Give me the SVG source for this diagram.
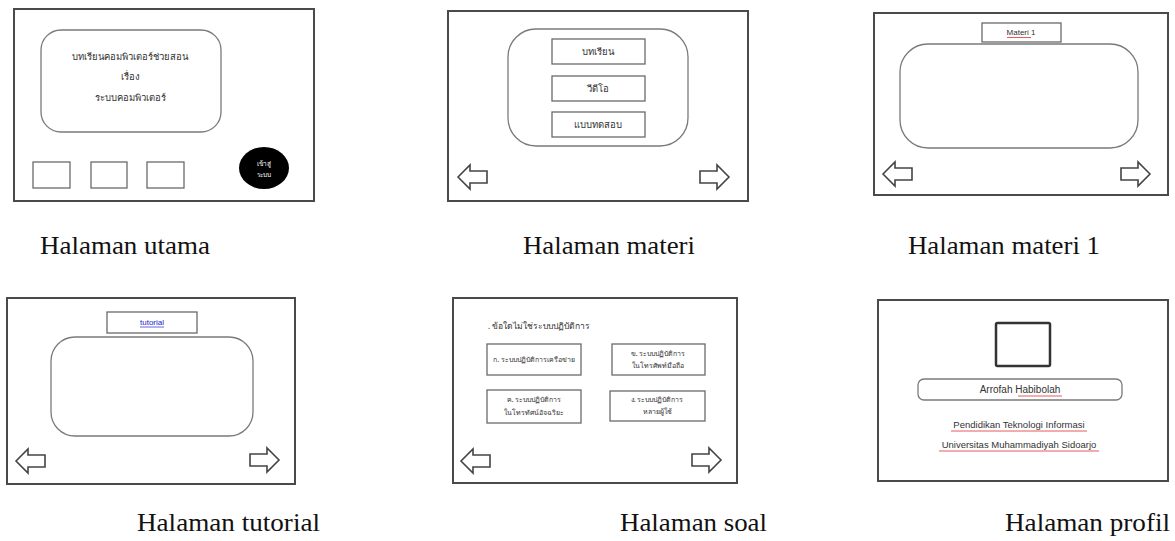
<svg xmlns="http://www.w3.org/2000/svg" width="1175" height="541" viewBox="0 0 1175 541">
<style>
.frame{fill:#fff;stroke:#4a4a4a;stroke-width:2}
.round{fill:#fff;stroke:#7a7a7a;stroke-width:1.3}
.box{fill:#fff;stroke:#6a6a6a;stroke-width:1.3}
.arrow{fill:#fff;stroke:#444;stroke-width:1.6;stroke-linejoin:miter}
.th{font-family:"Noto Sans","DejaVu Sans",sans-serif;font-size:9.5px;fill:#333;text-anchor:middle}
.sm{font-family:"Liberation Sans","DejaVu Sans",sans-serif;font-size:8px;fill:#333;text-anchor:middle}
.cap{font-family:"Liberation Serif","DejaVu Serif",serif;font-size:26px;fill:#111}
.red{stroke:#e03030;stroke-width:0.8;fill:none}
</style>
<defs>
<path id="la" d="M0 12 L12 0 L12 6 L29 6 L29 18 L12 18 L12 24 Z"/>
<path id="ra" d="M29 12 L17 0 L17 6 L0 6 L0 18 L17 18 L17 24 Z"/>
</defs>
<rect width="1175" height="541" fill="#fff"/>

<g id="halaman-utama">
<rect class="frame" x="14" y="9" width="300" height="192"/>
<rect class="round" x="41" y="30" width="180" height="102" rx="20"/>
<text class="th" x="130" y="60">บทเรียนคอมพิวเตอร์ช่วยสอน</text>
<text class="th" x="130" y="80">เรื่อง</text>
<text class="th" x="130" y="101">ระบบคอมพิวเตอร์</text>
<rect class="box" x="33" y="162" width="37" height="26"/>
<rect class="box" x="91" y="162" width="36" height="26"/>
<rect class="box" x="147" y="162" width="37" height="26"/>
<ellipse cx="264" cy="168" rx="25" ry="21" fill="#000"/>
<text class="th" x="264" y="166" style="fill:#fff;font-size:6.5px">เข้าสู่</text>
<text class="th" x="264" y="177" style="fill:#fff;font-size:6.5px">ระบบ</text>
<text class="cap" x="40" y="254" textLength="170" lengthAdjust="spacingAndGlyphs">Halaman utama</text>
</g>

<g id="halaman-materi">
<rect class="frame" x="448" y="11" width="300" height="190"/>
<rect class="round" x="508" y="29" width="180" height="117" rx="28"/>
<rect class="box" x="552" y="39" width="93" height="25"/>
<text class="th" x="598" y="55">บทเรียน</text>
<rect class="box" x="552" y="76" width="93" height="25"/>
<text class="th" x="598" y="92">วีดีโอ</text>
<rect class="box" x="552" y="112" width="93" height="25"/>
<text class="th" x="598" y="128">แบบทดสอบ</text>
<use href="#la" class="arrow" x="458" y="165"/>
<use href="#ra" class="arrow" x="700" y="165"/>
<text class="cap" x="523" y="254" textLength="172" lengthAdjust="spacingAndGlyphs">Halaman materi</text>
</g>

<g id="halaman-materi-1">
<rect class="frame" x="874" y="13" width="294" height="182"/>
<rect class="box" x="982" y="23" width="79" height="19"/>
<text class="sm" x="1021" y="35">Materi 1</text>
<line class="red" x1="1007" y1="37.5" x2="1031" y2="37.5"/>
<rect class="round" x="900" y="44" width="238" height="104" rx="28"/>
<use href="#la" class="arrow" x="883" y="162"/>
<use href="#ra" class="arrow" x="1121" y="162"/>
<text class="cap" x="908" y="254" textLength="192" lengthAdjust="spacingAndGlyphs">Halaman materi 1</text>
</g>

<g id="halaman-tutorial">
<rect class="frame" x="7" y="298" width="288" height="186"/>
<rect class="box" x="107" y="312" width="90" height="21"/>
<text class="sm" x="152" y="325" style="fill:#2222cc">tutorial</text>
<line x1="140" y1="327" x2="164" y2="327" stroke="#2222cc" stroke-width="0.7"/>
<rect class="round" x="51" y="337" width="202" height="99" rx="24"/>
<use href="#la" class="arrow" x="16" y="449"/>
<use href="#ra" class="arrow" x="250" y="448"/>
<text class="cap" x="137" y="531" textLength="183" lengthAdjust="spacingAndGlyphs">Halaman tutorial</text>
</g>

<g id="halaman-soal">
<rect class="frame" x="453" y="298" width="284" height="185"/>
<text class="th" x="488" y="329" style="text-anchor:start;font-size:8.5px">. ข้อใดไม่ใช่ระบบปฏิบัติการ</text>
<rect class="box" x="487" y="344" width="94" height="31"/>
<text class="th" x="534" y="362" style="font-size:7px">ก. ระบบปฏิบัติการเครือข่าย</text>
<rect class="box" x="612" y="344" width="93" height="31"/>
<text class="th" x="658" y="356" style="font-size:7px">ข. ระบบปฏิบัติการ</text>
<text class="th" x="658" y="368" style="font-size:7px">ในโทรศัพท์มือถือ</text>
<rect class="box" x="487" y="390" width="94" height="33"/>
<text class="th" x="534" y="402" style="font-size:7px">ค. ระบบปฏิบัติการ</text>
<text class="th" x="534" y="415" style="font-size:7px">ในโทรทัศน์อัจฉริยะ</text>
<rect class="box" x="610" y="391" width="95" height="30"/>
<text class="th" x="657" y="402" style="font-size:7px">ง. ระบบปฏิบัติการ</text>
<text class="th" x="657" y="414" style="font-size:7px">หลายผู้ใช้</text>
<use href="#la" class="arrow" x="461" y="449"/>
<use href="#ra" class="arrow" x="692" y="448"/>
<text class="cap" x="620" y="531" textLength="147" lengthAdjust="spacingAndGlyphs">Halaman soal</text>
</g>

<g id="halaman-profil">
<rect class="frame" x="878" y="300" width="290" height="181"/>
<rect x="996" y="323" width="54" height="43" fill="#fff" stroke="#333" stroke-width="2.5" rx="1.5"/>
<rect class="round" x="918" y="379" width="204" height="21" rx="6"/>
<text class="sm" x="1020" y="393" style="font-size:10px">Arrofah Habibolah</text>
<line class="red" x1="1018" y1="396" x2="1062" y2="396"/>
<text class="sm" x="1019" y="428" style="font-size:9.5px">Pendidikan Teknologi Informasi</text>
<line class="red" x1="951" y1="431" x2="1087" y2="431"/>
<text class="sm" x="1019" y="448" style="font-size:9.5px">Universitas Muhammadiyah Sidoarjo</text>
<line class="red" x1="939" y1="451" x2="1099" y2="451"/>
<text class="cap" x="1005" y="531" textLength="165" lengthAdjust="spacingAndGlyphs">Halaman profil</text>
</g>

<g id="connectors"></g>
</svg>
